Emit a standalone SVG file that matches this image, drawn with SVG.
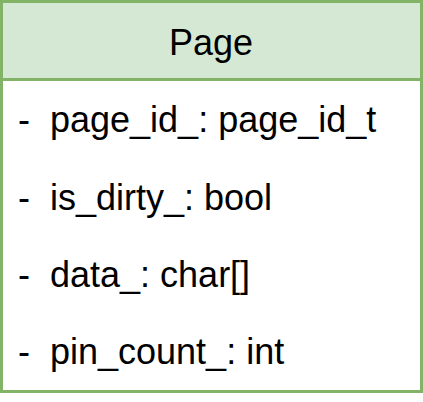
<svg xmlns="http://www.w3.org/2000/svg" width="423" height="402" viewBox="0 0 423 402">
  <style>
    .frame { fill: #ffffff; stroke: #82b366; stroke-width: 3; }
    .head { fill: #d5e8d4; stroke: #82b366; stroke-width: 3; }
    .t { font-family: "Liberation Sans", Arial, Helvetica, sans-serif; font-size: 36px; fill: #000000; }
  </style>
  <rect width="423" height="402" fill="#ffffff"/>
  <g id="page-class">
    <rect class="frame" x="1.5" y="1.5" width="420" height="390"/>
    <rect class="head" x="1.5" y="1.5" width="420" height="78"/>
    <text class="t" x="211" y="54.5" text-anchor="middle">Page</text>
  </g>
  <g id="page-fields">
    <text class="t" x="18" y="132" xml:space="preserve">-  page_id_: page_id_t</text>
    <text class="t" x="18" y="209.5" xml:space="preserve">-  is_dirty_: bool</text>
    <text class="t" x="18" y="287" xml:space="preserve">-  data_: char[]</text>
    <text class="t" x="18" y="364" xml:space="preserve">-  pin_count_: int</text>
  </g>
</svg>
